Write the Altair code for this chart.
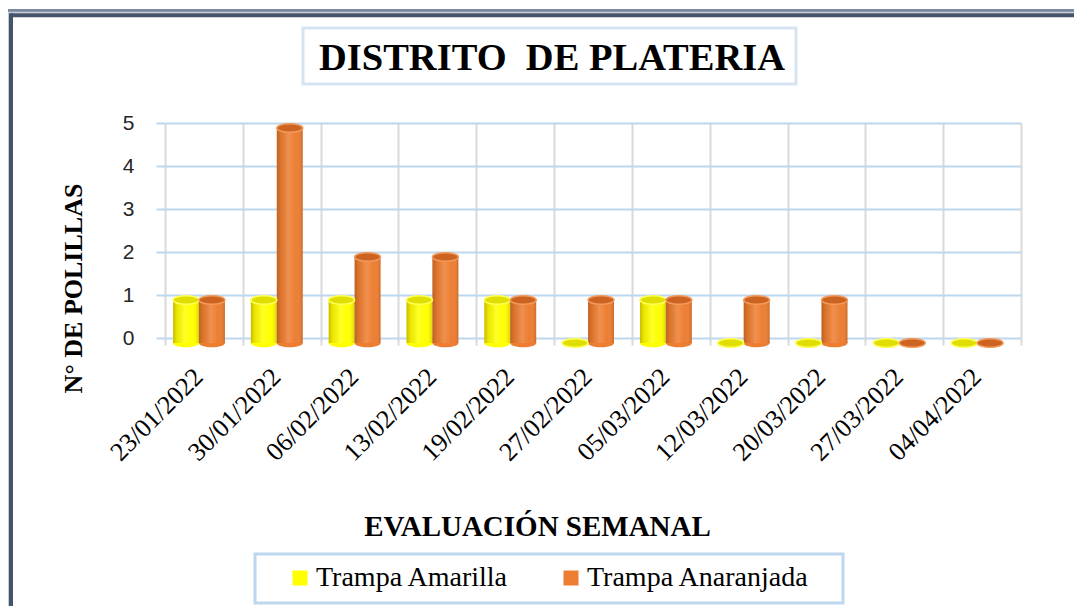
import altair as alt
import pandas as pd

FECHAS = ["23/01/2022", "30/01/2022", "06/02/2022", "13/02/2022", "19/02/2022",
          "27/02/2022", "05/03/2022", "12/03/2022", "20/03/2022", "27/03/2022", "04/04/2022"]
AMARILLA = [1, 1, 1, 1, 1, 0, 1, 0, 0, 0, 0]
ANARANJADA = [1, 5, 2, 2, 1, 1, 1, 1, 1, 0, 0]
SERIES = ["Trampa Amarilla", "Trampa Anaranjada"]
Y_TICKS = [0, 1, 2, 3, 4, 5]
TITULO = "DISTRITO\u00a0 DE PLATERIA"
EJE_X = "EVALUACIÓN SEMANAL"
EJE_Y = "N° DE POLILLAS"

COLORES = ["#FFFF00", "#ED7D31"]
TAPA = ["#E0DE00", "#CC6320"]
BORDE_TAPA = ["#FFFF55", "#F39A5C"]

rows = []
for f, a, n in zip(FECHAS, AMARILLA, ANARANJADA):
    rows.append({"fecha": f, "serie": SERIES[0], "valor": a, "base": 0})
    rows.append({"fecha": f, "serie": SERIES[1], "valor": n, "base": 0})
df = pd.DataFrame(rows)

W, H = 856, 215
SERIF = "Liberation Serif"
ELIPSE = "M-1,0A1,0.33,0,1,1,1,0A1,0.33,0,1,1,-1,0Z"

x_axis = alt.Axis(
    labelAngle=-45, labelAlign="right", labelBaseline="alphabetic",
    labelFont=SERIF, labelFontSize=26, labelColor="#000000",
    labelPadding=33, tickBand="extent", ticks=True, tickColor="#D9D9D9",
    tickSize=7, tickWidth=2, grid=True, gridColor="#D9D9D9", gridWidth=2,
    domain=False, titleFont=SERIF, titleFontSize=29, titleFontWeight="bold",
    titleColor="#000000", titleX=372, titleY=197, titleAlign="center",
    titleBaseline="alphabetic",
)
y_axis = alt.Axis(
    values=Y_TICKS, labelFont="Liberation Sans", labelFontSize=21,
    labelColor="#262626", labelPadding=22, ticks=True, tickColor="#BDD7EE",
    tickSize=9, tickWidth=2, grid=True, gridColor="#BDD7EE", gridWidth=2,
    domain=False, titleFont=SERIF, titleFontSize=26, titleFontWeight="bold",
    titleColor="#000000", titleX=-84, titleY=165, titleAlign="center",
    titleBaseline="alphabetic",
)

x_enc = alt.X("fecha:N", sort=FECHAS,
              scale=alt.Scale(domain=FECHAS, paddingInner=0, paddingOuter=0),
              axis=x_axis, title=EJE_X)
xoff = alt.XOffset("serie:N", scale=alt.Scale(domain=SERIES, paddingInner=0,
                                             paddingOuter=0.5, align=0.31))
y_scale = alt.Scale(domain=[0, 5], nice=False, zero=True)


def y_enc(field):
    return alt.Y(f"{field}:Q", scale=y_scale, axis=y_axis, title=EJE_Y)


base = alt.Chart(df)

fondo = base.mark_point(shape=ELIPSE, filled=True, size=676, opacity=1, yOffset=5).encode(
    x=x_enc, xOffset=xoff, y=y_enc("base"),
    color=alt.Color("serie:N", scale=alt.Scale(domain=SERIES, range=COLORES),
                    legend=alt.Legend(orient="none", legendX=121, legendY=441,
                                      direction="horizontal", title=None,
                                      symbolType="square", symbolSize=225,
                                      symbolStrokeWidth=0, symbolOpacity=1,
                                      labelFont=SERIF, labelFontSize=28,
                                      labelColor="#000000", labelOffset=2,
                                      labelLimit=0, columnPadding=48, padding=0)),
)

barras = base.mark_bar(yOffset=5, y2Offset=5).encode(
    x=x_enc, xOffset=xoff, y=y_enc("valor"),
    color=alt.Color("serie:N", scale=alt.Scale(domain=SERIES, range=COLORES), legend=None),
)

sombra = base.mark_bar(
    yOffset=5, y2Offset=5,
    fill=alt.LinearGradient(
        gradient="linear", x1=0, x2=1, y1=0, y2=0,
        stops=[
            alt.GradientStop(offset=0, color="rgba(90,45,0,0.32)"),
            alt.GradientStop(offset=0.15, color="rgba(90,45,0,0.12)"),
            alt.GradientStop(offset=0.45, color="rgba(255,255,255,0.15)"),
            alt.GradientStop(offset=0.75, color="rgba(255,255,255,0)"),
            alt.GradientStop(offset=1, color="rgba(90,45,0,0.22)"),
        ],
    ),
).encode(x=x_enc, xOffset=xoff, y=y_enc("valor"))

tapas = base.mark_point(shape=ELIPSE, filled=True, size=676, opacity=1,
                        strokeWidth=1.5, yOffset=5).encode(
    x=x_enc, xOffset=xoff, y=y_enc("valor"),
    fill=alt.Fill("serie:N", scale=alt.Scale(domain=SERIES, range=TAPA), legend=None),
    stroke=alt.Stroke("serie:N", scale=alt.Scale(domain=SERIES, range=BORDE_TAPA), legend=None),
)

uno = pd.DataFrame({"k": [0]})
deco = alt.Chart(uno)

titulo = deco.mark_text(text=TITULO, font=SERIF, fontSize=38.5, fontWeight="bold",
                        align="center", baseline="alphabetic", color="#000000").encode(
    x=alt.value(387), y=alt.value(-53))
caja_titulo = deco.mark_rect(fillOpacity=0, stroke="#D6E4F2", strokeWidth=3).encode(
    x=alt.value(138), x2=alt.value(631), y=alt.value(-95), y2=alt.value(-39))
caja_leyenda = deco.mark_rect(fillOpacity=0, stroke="#BDD7EE", strokeWidth=3).encode(
    x=alt.value(90), x2=alt.value(678), y=alt.value(431), y2=alt.value(480))

marco = [
    deco.mark_rule(color="#7A889F", strokeWidth=3).encode(
        x=alt.value(-157), x2=alt.value(909), y=alt.value(-112.5)),
    deco.mark_rule(color="#C4CCD8", strokeWidth=1.5).encode(
        x=alt.value(-157), x2=alt.value(909), y=alt.value(-110.5)),
    deco.mark_rule(color="#44546A", strokeWidth=4).encode(
        x=alt.value(-155), x2=alt.value(909), y=alt.value(-107.7)),
    deco.mark_rule(color="#C4CCD8", strokeWidth=1.5).encode(
        x=alt.value(-156.5), y=alt.value(-111), y2=alt.value(483)),
    deco.mark_rule(color="#44546A", strokeWidth=4).encode(
        x=alt.value(-154), y=alt.value(-109.7), y2=alt.value(483)),
]

chart = alt.layer(
    fondo, barras, sombra, tapas, titulo, caja_titulo, caja_leyenda, *marco
).properties(
    width=W, height=H,
    autosize=alt.AutoSizeParams(type="none"),
    padding={"left": 157, "top": 115, "right": 53, "bottom": 268},
).configure_view(stroke=None)

chart.save("out.html", embed_options={"renderer": "svg", "actions": False})
